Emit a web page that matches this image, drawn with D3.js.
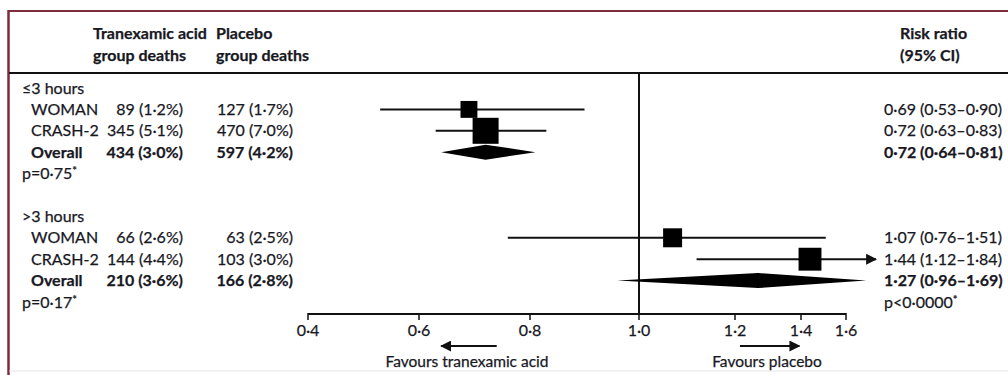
<!DOCTYPE html>
<html>
<head>
<meta charset="utf-8">
<script src="https://cdn.jsdelivr.net/npm/d3@7"></script>
<style>
  body { margin: 0; background: #fff; }
  svg { display: block; }
  text { font-family: Lato, "Liberation Sans", sans-serif; font-size: 16px; fill: #18181f; stroke: #18181f; stroke-width: 0.25px; }
  .bold { font-weight: 700; }
</style>
</head>
<body>
<svg id="viz"></svg>
<script>
var width = 1008;
var height = 375;

// rows of the table (row index counts blank/heading lines too)
var groupLabels = ["\u22643 hours", ">3 hours"];
var groupRow = [0, 6];
var pLabels = ["p=0\u00b775", "p=0\u00b717"];
var pRow = [4, 10];

var studyRow = [1, 2, 3, 7, 8, 9];
var studyLabels = ["WOMAN", "CRASH-2", "Overall", "WOMAN", "CRASH-2", "Overall"];
var isOverall = [false, false, true, false, false, true];
var txaDeaths = ["89 (1\u00b72%)", "345 (5\u00b71%)", "434 (3\u00b70%)", "66 (2\u00b76%)", "144 (4\u00b74%)", "210 (3\u00b76%)"];
var placeboDeaths = ["127 (1\u00b77%)", "470 (7\u00b70%)", "597 (4\u00b72%)", "63 (2\u00b75%)", "103 (3\u00b70%)", "166 (2\u00b78%)"];
var riskRatio = [0.69, 0.72, 0.72, 1.07, 1.44, 1.27];
var ciLow = [0.53, 0.63, 0.64, 0.76, 1.12, 0.96];
var ciHigh = [0.90, 0.83, 0.81, 1.51, 1.84, 1.69];
var boxWeight = [0.65, 1.0, 0, 0.73, 0.88, 0];
var rrLabels = ["0\u00b769 (0\u00b753\u20130\u00b790)", "0\u00b772 (0\u00b763\u20130\u00b783)", "0\u00b772 (0\u00b764\u20130\u00b781)",
                "1\u00b707 (0\u00b776\u20131\u00b751)", "1\u00b744 (1\u00b712\u20131\u00b784)", "1\u00b727 (0\u00b796\u20131\u00b769)"];
var heterogeneity = "p<0\u00b70000";

var tickValues = [0.4, 0.6, 0.8, 1.0, 1.2, 1.4, 1.6];
var tickLabels = ["0\u00b74", "0\u00b76", "0\u00b78", "1\u00b70", "1\u00b72", "1\u00b74", "1\u00b76"];
var favourLeft = [0.74, 0.64];
var favourRight = [1.215, 1.395];

// the printed axis is not evenly spaced, so a piecewise scale is used
var x = d3.scaleLinear()
    .domain(tickValues)
    .range([308, 419, 530, 639, 735, 801, 846]);
var xMax = 868;
function xc(v) { return Math.min(x(v), xMax); }

var y = d3.scaleLinear().domain([0, 10]).range([88, 302]);
var box = d3.scaleLinear().domain([0, 1]).range([0, 26]);

var headerLineY = 73;
var axisY = 314;

var svg = d3.select("#viz").attr("width", width).attr("height", height);

svg.append("defs").append("marker")
    .attr("id", "head")
    .attr("viewBox", "0 0 10 10")
    .attr("refX", 9).attr("refY", 5)
    .attr("markerWidth", 5.5).attr("markerHeight", 5.5)
    .attr("orient", "auto")
    .append("path")
    .attr("d", "M0,0L10,5L0,10Z")
    .attr("fill", "#111");

// frame
svg.append("line").attr("x1", 8).attr("x2", width).attr("y1", 11).attr("y2", 11)
    .attr("stroke", "#7d2c3c").attr("stroke-width", 2);
svg.append("line").attr("x1", 8.5).attr("x2", 8.5).attr("y1", 10).attr("y2", height)
    .attr("stroke", "#7d2c3c").attr("stroke-width", 2.5);
svg.append("line").attr("x1", 9).attr("x2", width).attr("y1", 371).attr("y2", 371)
    .attr("stroke", "#e6e6e6").attr("stroke-width", 1);

// headers
function headText(tx, ty, s) {
    svg.append("text").attr("x", tx).attr("y", ty).attr("dy", "0.35em")
        .attr("class", "bold").text(s);
}
headText(93, 33, "Tranexamic acid");
headText(93, 55, "group deaths");
headText(216, 33, "Placebo");
headText(216, 55, "group deaths");
headText(900, 33, "Risk ratio");
headText(900, 55, "(95% CI)");

svg.append("line").attr("x1", 9).attr("x2", width).attr("y1", headerLineY).attr("y2", headerLineY)
    .attr("stroke", "#111").attr("stroke-width", 2);

// null line
svg.append("line").attr("x1", x(1)).attr("x2", x(1)).attr("y1", headerLineY).attr("y2", axisY)
    .attr("stroke", "#111").attr("stroke-width", 2);

// group labels and p values
svg.append("g").selectAll("text").data(groupLabels).enter().append("text")
    .attr("x", 22).attr("y", function(d, i) { return y(groupRow[i]); }).attr("dy", "0.35em")
    .text(function(d) { return d; });

var pText = svg.append("g").selectAll("text").data(pLabels).enter().append("text")
    .attr("x", 22).attr("y", function(d, i) { return y(pRow[i]); }).attr("dy", "0.35em");
pText.append("tspan").text(function(d) { return d; });
pText.append("tspan").attr("dy", "-0.35em").style("font-size", "11px").text("*");

// table rows, bound to row index
var rows = svg.append("g").selectAll("g").data(d3.range(studyLabels.length)).enter().append("g")
    .attr("transform", function(i) { return "translate(0," + y(studyRow[i]) + ")"; });

function cell(xPos, anchor, values) {
    rows.append("text").attr("x", xPos).attr("dy", "0.35em").attr("text-anchor", anchor)
        .attr("class", function(i) { return isOverall[i] ? "bold" : null; })
        .text(function(i) { return values[i]; });
}
cell(31, "start", studyLabels);
cell(183, "end", txaDeaths);
cell(293, "end", placeboDeaths);
cell(884, "start", rrLabels);

var het = svg.append("text").attr("x", 884).attr("y", y(pRow[1])).attr("dy", "0.35em");
het.append("tspan").text(heterogeneity);
het.append("tspan").attr("dy", "-0.35em").style("font-size", "11px").text("*");

var single = rows.filter(function(i) { return !isOverall[i]; });
var pooled = rows.filter(function(i) { return isOverall[i]; });

// confidence intervals for single studies
single.append("line")
    .attr("x1", function(i) { return x(ciLow[i]); })
    .attr("x2", function(i) { return ciHigh[i] > 1.6 ? xMax + 8 : x(ciHigh[i]); })
    .attr("y1", 0).attr("y2", 0)
    .attr("stroke", "#111").attr("stroke-width", 2)
    .attr("marker-end", function(i) { return ciHigh[i] > 1.6 ? "url(#head)" : null; });

// boxes
single.append("rect")
    .attr("x", function(i) { return x(riskRatio[i]) - box(boxWeight[i]) / 2; })
    .attr("y", function(i) { return -box(boxWeight[i]) / 2; })
    .attr("width", function(i) { return box(boxWeight[i]); })
    .attr("height", function(i) { return box(boxWeight[i]); })
    .attr("fill", "#000");

// pooled diamonds
pooled.append("path")
    .attr("fill", "#000")
    .attr("d", function(i) {
        var h = 7.5;
        return "M" + xc(ciLow[i]) + ",0L" + x(riskRatio[i]) + "," + (-h) +
            "L" + xc(ciHigh[i]) + ",0L" + x(riskRatio[i]) + "," + h + "Z";
    });

// axis
var axis = svg.append("g").attr("transform", "translate(0," + axisY + ")");
axis.append("line").attr("x1", x(0.4)).attr("x2", x(1.6)).attr("stroke", "#111").attr("stroke-width", 2);
axis.selectAll(".tick").data(tickValues).enter().append("line")
    .attr("x1", function(d) { return x(d); }).attr("x2", function(d) { return x(d); })
    .attr("y1", -1).attr("y2", 6)
    .attr("stroke", "#111").attr("stroke-width", 1.5);
axis.selectAll("text").data(tickLabels).enter().append("text")
    .attr("x", function(d, i) { return x(tickValues[i]); })
    .attr("y", 16).attr("dy", "0.35em").attr("text-anchor", "middle")
    .text(function(d) { return d; });

// favours arrows
svg.append("line").attr("x1", x(favourLeft[0])).attr("x2", x(favourLeft[1]))
    .attr("y1", 346).attr("y2", 346).attr("stroke", "#111").attr("stroke-width", 2)
    .attr("marker-end", "url(#head)");
svg.append("line").attr("x1", x(favourRight[0])).attr("x2", x(favourRight[1]))
    .attr("y1", 346).attr("y2", 346).attr("stroke", "#111").attr("stroke-width", 2)
    .attr("marker-end", "url(#head)");
svg.append("text").attr("x", 467).attr("y", 362).attr("dy", "0.35em").attr("text-anchor", "middle")
    .style("font-size", "15.5px").text("Favours tranexamic acid");
svg.append("text").attr("x", 767).attr("y", 362).attr("dy", "0.35em").attr("text-anchor", "middle")
    .style("font-size", "15.5px").text("Favours placebo");
</script>
</body>
</html>
